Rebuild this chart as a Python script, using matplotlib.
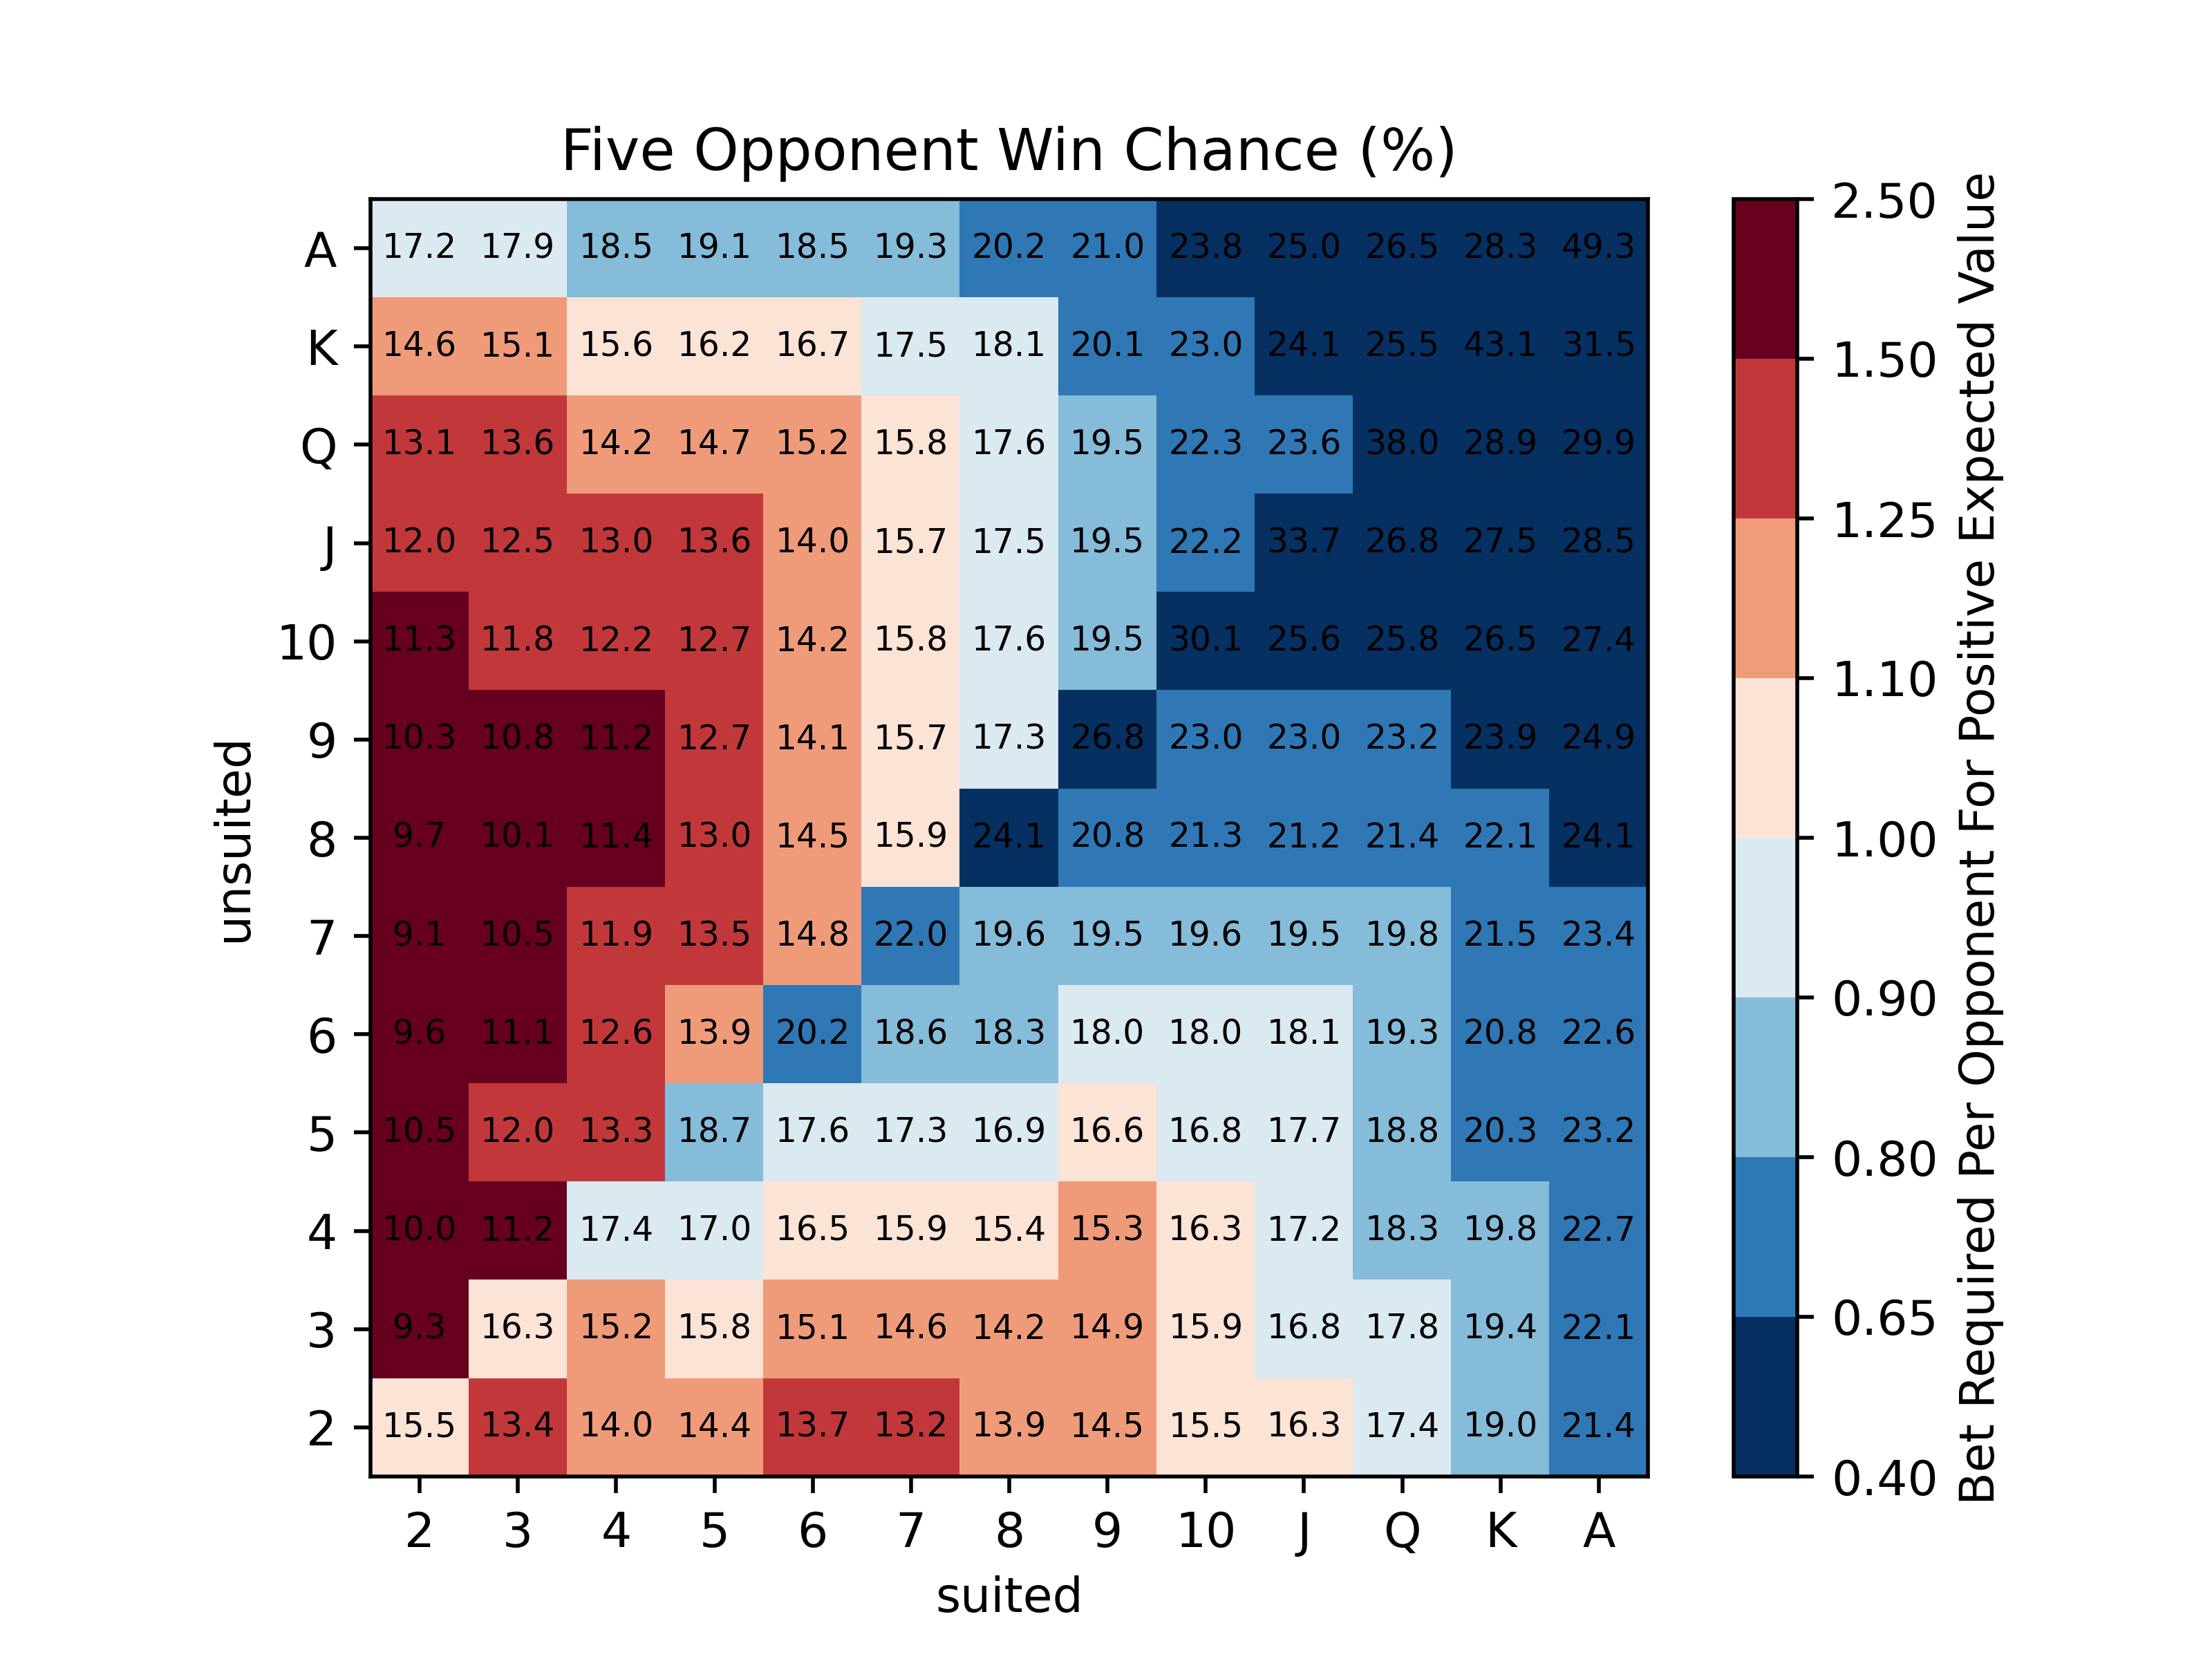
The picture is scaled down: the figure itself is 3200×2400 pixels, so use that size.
import numpy as np
import matplotlib
matplotlib.use('Agg')
import matplotlib.pyplot as plt
from matplotlib.colors import BoundaryNorm

ranks = ['2', '3', '4', '5', '6', '7', '8', '9', '10', 'J', 'Q', 'K', 'A']
row_labels = ranks[::-1]  # A at the top

# win chance (%) against five opponents, rows A..2, columns 2..A
win_A = [17.2, 17.9, 18.5, 19.1, 18.5, 19.3, 20.2, 21.0, 23.8, 25.0, 26.5, 28.3, 49.3]
win_K = [14.6, 15.1, 15.6, 16.2, 16.7, 17.5, 18.1, 20.1, 23.0, 24.1, 25.5, 43.1, 31.5]
win_Q = [13.1, 13.6, 14.2, 14.7, 15.2, 15.8, 17.6, 19.5, 22.3, 23.6, 38.0, 28.9, 29.9]
win_J = [12.0, 12.5, 13.0, 13.6, 14.0, 15.7, 17.5, 19.5, 22.2, 33.7, 26.8, 27.5, 28.5]
win_10 = [11.3, 11.8, 12.2, 12.7, 14.2, 15.8, 17.6, 19.5, 30.1, 25.6, 25.8, 26.5, 27.4]
win_9 = [10.3, 10.8, 11.2, 12.7, 14.1, 15.7, 17.3, 26.8, 23.0, 23.0, 23.2, 23.9, 24.9]
win_8 = [9.7, 10.1, 11.4, 13.0, 14.5, 15.9, 24.1, 20.8, 21.3, 21.2, 21.4, 22.1, 24.1]
win_7 = [9.1, 10.5, 11.9, 13.5, 14.8, 22.0, 19.6, 19.5, 19.6, 19.5, 19.8, 21.5, 23.4]
win_6 = [9.6, 11.1, 12.6, 13.9, 20.2, 18.6, 18.3, 18.0, 18.0, 18.1, 19.3, 20.8, 22.6]
win_5 = [10.5, 12.0, 13.3, 18.7, 17.6, 17.3, 16.9, 16.6, 16.8, 17.7, 18.8, 20.3, 23.2]
win_4 = [10.0, 11.2, 17.4, 17.0, 16.5, 15.9, 15.4, 15.3, 16.3, 17.2, 18.3, 19.8, 22.7]
win_3 = [9.3, 16.3, 15.2, 15.8, 15.1, 14.6, 14.2, 14.9, 15.9, 16.8, 17.8, 19.4, 22.1]
win_2 = [15.5, 13.4, 14.0, 14.4, 13.7, 13.2, 13.9, 14.5, 15.5, 16.3, 17.4, 19.0, 21.4]

# bet band each cell falls in (0 = 0.40-0.65 ... 7 = 1.50-2.50)
band_A = [3, 3, 2, 2, 2, 2, 1, 1, 0, 0, 0, 0, 0]
band_K = [5, 5, 4, 4, 4, 3, 3, 1, 1, 0, 0, 0, 0]
band_Q = [6, 6, 5, 5, 5, 4, 3, 2, 1, 1, 0, 0, 0]
band_J = [6, 6, 6, 6, 5, 4, 3, 2, 1, 0, 0, 0, 0]
band_10 = [7, 6, 6, 6, 5, 4, 3, 2, 0, 0, 0, 0, 0]
band_9 = [7, 7, 7, 6, 5, 4, 3, 0, 1, 1, 1, 0, 0]
band_8 = [7, 7, 7, 6, 5, 4, 0, 1, 1, 1, 1, 1, 0]
band_7 = [7, 7, 6, 6, 5, 1, 2, 2, 2, 2, 2, 1, 1]
band_6 = [7, 7, 6, 5, 1, 2, 2, 3, 3, 3, 2, 1, 1]
band_5 = [7, 6, 6, 2, 3, 3, 3, 4, 3, 3, 2, 1, 1]
band_4 = [7, 7, 3, 3, 4, 4, 4, 5, 4, 3, 2, 2, 1]
band_3 = [7, 4, 5, 4, 5, 5, 5, 5, 4, 3, 3, 2, 1]
band_2 = [4, 6, 5, 5, 6, 6, 5, 5, 4, 4, 3, 2, 1]

bounds = [0.40, 0.65, 0.80, 0.90, 1.00, 1.10, 1.25, 1.50, 2.50]

win = np.array([win_A, win_K, win_Q, win_J, win_10, win_9, win_8,
                win_7, win_6, win_5, win_4, win_3, win_2])
band = np.array([band_A, band_K, band_Q, band_J, band_10, band_9, band_8,
                 band_7, band_6, band_5, band_4, band_3, band_2])

mids = (np.array(bounds[:-1]) + np.array(bounds[1:])) / 2
bet = mids[band]

fig, ax = plt.subplots(figsize=(6.4, 4.8))
norm = BoundaryNorm(bounds, 256)
im = ax.imshow(bet, cmap='RdBu_r', norm=norm)

for i in range(len(row_labels)):
    for j in range(len(ranks)):
        ax.text(j, i, f'{win[i, j]:.1f}', ha='center', va='center',
                color='black', fontsize=7)

ax.set_xticks(range(len(ranks)))
ax.set_xticklabels(ranks)
ax.set_yticks(range(len(row_labels)))
ax.set_yticklabels(row_labels)
ax.set_xlabel('suited')
ax.set_ylabel('unsuited')
ax.set_title('Five Opponent Win Chance (%)')

cbar = fig.colorbar(im, ax=ax, ticks=bounds)
cbar.ax.set_yticklabels([f'{b:.2f}' for b in bounds])
cbar.set_label('Bet Required Per Opponent For Positive Expected Value')

fig.savefig('out.png', dpi=500)
